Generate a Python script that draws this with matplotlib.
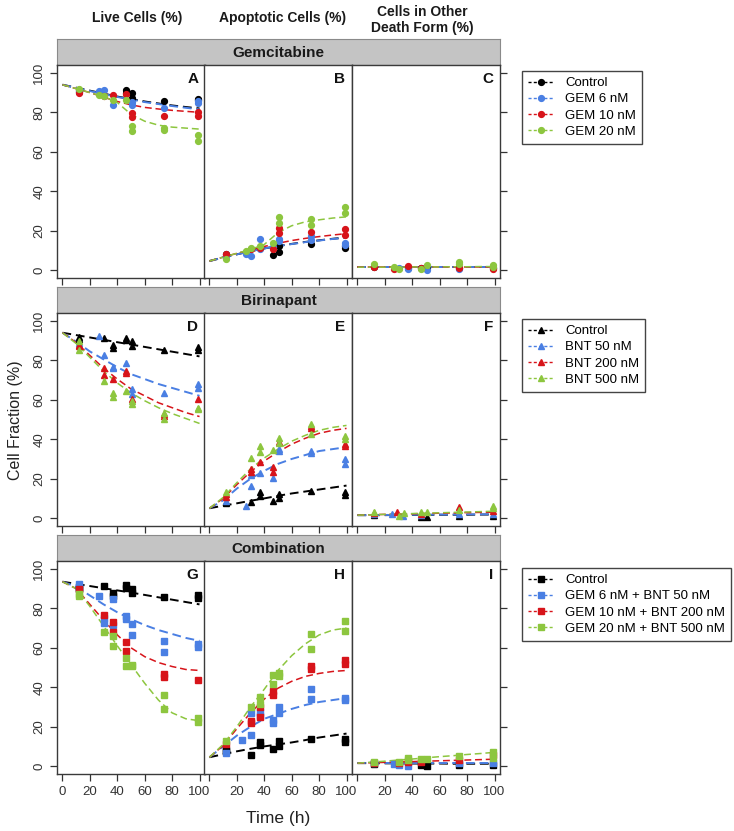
import matplotlib
matplotlib.use('Agg')
import matplotlib.pyplot as plt
from matplotlib.lines import Line2D

plt.rcParams['font.family'] = ['Liberation Sans', 'DejaVu Sans']

# ---------------- data ----------------
col_titles = ['Live Cells (%)', 'Apoptotic Cells (%)', 'Cells in Other\nDeath Form (%)']
row_titles = ['Gemcitabine', 'Birinapant', 'Combination']
panel_letters = [['A', 'B', 'C'], ['D', 'E', 'F'], ['G', 'H', 'I']]
legend_gem = ['Control', 'GEM 6 nM', 'GEM 10 nM', 'GEM 20 nM']
legend_bnt = ['Control', 'BNT 50 nM', 'BNT 200 nM', 'BNT 500 nM']
legend_comb = ['Control', 'GEM 6 nM + BNT 50 nM', 'GEM 10 nM + BNT 200 nM', 'GEM 20 nM + BNT 500 nM']
series_keys = ['ctrl', 'low', 'mid', 'high']
series_colors = ['#000000', '#4a7fe3', '#d7141a', '#8dc63f']
row_markers = ['o', '^', 's']

x_ticks = [0, 20, 40, 60, 80, 100]
y_ticks = [0, 20, 40, 60, 80, 100]
fit_t = [0, 10, 20, 30, 40, 50, 60, 70, 80, 90, 100]

# Panel A (live, gemcitabine)
A_pts = {
    'ctrl': [(12, 91.5), (12, 90.5), (46, 91.5), (46, 90.0), (51, 89.8), (51, 87.3), (74, 85.6), (99, 86.8), (99, 86.0)],
    'low':  [(12, 90.6), (27, 90.6), (30, 91.5), (37, 83.9), (51, 83.9), (51, 85.0), (74, 82.2), (99, 84.7), (99, 85.5)],
    'mid':  [(12, 89.8), (30, 88.5), (37, 89.0), (46, 89.5), (51, 79.7), (51, 77.6), (74, 78.3), (99, 80.0), (99, 78.0)],
    'high': [(12, 91.8), (27, 89.0), (30, 88.5), (37, 86.4), (46, 86.4), (51, 73.2), (51, 70.4), (74, 72.0), (74, 71.0), (99, 68.7), (99, 65.3)],
}
A_fit = {
    'ctrl': [94, 92.5, 91, 89.5, 88, 86.8, 85.5, 84.5, 83.5, 82.7, 82],
    'low':  [94, 92.4, 90.8, 89.3, 87.8, 86.5, 85.2, 84.2, 83.2, 82.3, 81.5],
    'mid':  [94, 92, 90, 87.7, 85.5, 83.8, 82.5, 81.7, 81, 80.5, 80],
    'high': [94, 92, 90, 88, 85, 79, 75.5, 73.5, 72.5, 72, 71.5],
}
# Panel B (apoptotic, gemcitabine)
B_pts = {
    'ctrl': [(12, 8.0), (37, 11.3), (46, 7.6), (51, 9.1), (51, 12.1), (74, 13.0), (99, 11.3), (99, 12.2)],
    'low':  [(12, 7.1), (27, 8.0), (30, 7.4), (37, 15.9), (37, 10.5), (46, 11.5), (51, 15.9), (51, 14.7), (74, 17.2), (74, 15.5), (99, 13.8), (99, 12.5)],
    'mid':  [(12, 8.4), (30, 10.5), (37, 11.0), (46, 10.5), (51, 21.4), (51, 18.9), (74, 19.2), (99, 20.6), (99, 17.6)],
    'high': [(12, 5.7), (27, 9.5), (30, 11.3), (37, 12.2), (46, 13.8), (51, 27.0), (51, 24.0), (74, 26.0), (74, 23.1), (99, 31.9), (99, 29.0)],
}
B_fit = {
    'ctrl': [4.6, 6.4, 8.0, 9.6, 11.0, 12.2, 13.3, 14.3, 15.1, 15.9, 16.6],
    'low':  [4.6, 6.4, 8.0, 9.6, 11.0, 12.2, 13.2, 14.2, 15.0, 15.8, 16.4],
    'mid':  [4.6, 6.6, 8.5, 10.3, 12.0, 13.6, 15.0, 16.1, 17.0, 17.8, 18.5],
    'high': [4.6, 6.6, 8.5, 10.5, 13.0, 19.0, 22.5, 24.5, 25.5, 26.4, 27.0],
}
# Panel C (other death, gemcitabine)
C_pts = {
    'ctrl': [(12, 1.5), (37, 1.3), (46, 1.0), (51, 1.0), (74, 1.0), (99, 1.0)],
    'low':  [(12, 2.2), (30, 1.0), (37, 0.5), (51, 0.2), (74, 0.5), (99, 1.0)],
    'mid':  [(12, 1.5), (27, 0.8), (37, 1.9), (46, 1.0), (74, 1.0), (99, 0.5)],
    'high': [(12, 2.9), (27, 1.8), (30, 0.6), (46, 0.6), (51, 2.6), (74, 4.3), (74, 3.0), (99, 2.6), (99, 1.6)],
}
C_fit = {
    'ctrl': [1.5] * 11,
    'low':  [1.5] * 11,
    'mid':  [1.5, 1.5, 1.5, 1.5, 1.5, 1.5, 1.5, 1.5, 1.5, 1.5, 1.5],
    'high': [1.5, 1.5, 1.5, 1.5, 1.6, 1.6, 1.6, 1.7, 1.7, 1.8, 1.8],
}
# Panel D (live, birinapant)
D_pts = {
    'ctrl': [(12, 91.8), (12, 90.8), (30, 91.3), (37, 87.9), (37, 86.2), (46, 91.3), (46, 90.5), (51, 90.0), (51, 87.4), (74, 85.4), (99, 87.0), (99, 85.4)],
    'low':  [(12, 88.8), (27, 92.1), (30, 82.9), (37, 76.5), (37, 76.0), (46, 78.7), (51, 65.3), (51, 62.8), (74, 63.6), (99, 67.8), (99, 66.1)],
    'mid':  [(12, 87.1), (12, 88.0), (30, 76.2), (30, 72.8), (37, 70.3), (46, 74.5), (46, 73.7), (51, 60.3), (74, 52.7), (74, 51.9), (99, 60.3)],
    'high': [(12, 89.6), (12, 85.1), (30, 69.5), (37, 63.6), (37, 61.6), (46, 64.4), (51, 59.4), (51, 57.7), (74, 53.5), (74, 50.2), (99, 56.0), (99, 55.2)],
}
D_fit = {
    'ctrl': [94, 92.8, 91.6, 90.4, 89.2, 88, 86.8, 85.6, 84.4, 83.2, 82],
    'low':  [94, 89.5, 84.5, 80.5, 76.5, 73, 70.5, 68, 66, 64, 62],
    'mid':  [94, 89, 82.5, 76, 70.5, 65.5, 62, 58.5, 56, 53.5, 51.5],
    'high': [94, 88.5, 81.5, 74.5, 68.5, 63.5, 59.5, 56, 53, 50.5, 48],
}
# Panel E (apoptotic, birinapant)
E_pts = {
    'ctrl': [(12, 7.5), (12, 8.2), (30, 8.0), (37, 13.0), (37, 11.3), (46, 8.8), (51, 12.2), (51, 10.0), (74, 13.8), (99, 13.0), (99, 11.7)],
    'low':  [(12, 8.8), (27, 6.3), (30, 16.3), (30, 22.0), (37, 22.7), (46, 20.5), (51, 35.0), (51, 34.0), (74, 34.0), (74, 33.0), (99, 30.0), (99, 27.6)],
    'mid':  [(12, 10.5), (12, 12.0), (30, 24.7), (30, 23.4), (37, 28.4), (46, 26.0), (46, 23.4), (51, 38.5), (74, 46.8), (74, 45.5), (99, 37.6), (99, 36.7)],
    'high': [(12, 13.0), (30, 30.4), (37, 36.8), (37, 33.4), (46, 34.3), (51, 40.5), (51, 38.1), (74, 47.7), (74, 42.6), (99, 41.8), (99, 40.1)],
}
E_fit = {
    'ctrl': [5, 6.3, 7.5, 8.8, 10, 11.3, 12.5, 13.5, 14.5, 15.5, 16.5],
    'low':  [5, 9, 15, 20, 24, 27.5, 30, 32, 34, 35, 36],
    'mid':  [5, 10, 17, 23.5, 29, 33.5, 37.5, 40.5, 43, 44.5, 45.5],
    'high': [5, 10.5, 18, 25, 30.5, 35, 39, 42, 44.5, 46, 47],
}
# Panel F (other death, birinapant)
F_pts = {
    'ctrl': [(12, 1.5), (46, 0.5), (51, 0.8), (74, 1.3), (99, 1.3)],
    'low':  [(12, 2.0), (25, 2.2), (33, 1.0), (46, 1.5), (74, 2.0), (99, 2.0)],
    'mid':  [(12, 2.5), (29, 3.0), (46, 2.0), (74, 5.5), (99, 3.8)],
    'high': [(12, 3.3), (30, 1.3), (34, 2.7), (46, 3.0), (51, 3.0), (74, 4.0), (99, 6.3), (99, 5.0)],
}
F_fit = {
    'ctrl': [1.5, 1.5, 1.5, 1.6, 1.6, 1.6, 1.7, 1.7, 1.7, 1.8, 1.8],
    'low':  [1.5, 1.5, 1.6, 1.6, 1.7, 1.7, 1.8, 1.8, 1.9, 1.9, 2.0],
    'mid':  [1.5, 1.7, 1.9, 2.0, 2.2, 2.3, 2.5, 2.6, 2.8, 2.9, 3.0],
    'high': [1.5, 1.7, 1.9, 2.1, 2.3, 2.5, 2.7, 2.9, 3.1, 3.3, 3.5],
}
# Panel G (live, combination)
G_pts = {
    'ctrl': [(12, 90.4), (12, 89.6), (30, 91.3), (37, 87.9), (37, 86.2), (46, 91.6), (46, 90.4), (51, 89.9), (51, 87.6), (74, 85.7), (99, 86.6), (99, 85.1)],
    'low':  [(12, 92.1), (12, 91.0), (27, 86.2), (30, 75.3), (30, 72.5), (37, 84.6), (37, 71.5), (46, 76.2), (46, 74.5), (51, 72.3), (51, 66.5), (74, 63.3), (74, 58.0), (99, 62.0), (99, 60.3)],
    'mid':  [(12, 90.0), (30, 76.7), (37, 73.3), (37, 68.1), (46, 62.8), (46, 58.6), (74, 46.8), (74, 45.2), (99, 43.5)],
    'high': [(12, 87.1), (12, 86.3), (30, 68.1), (37, 65.8), (37, 60.8), (46, 54.7), (46, 51.0), (51, 51.4), (51, 50.6), (74, 36.3), (74, 28.9), (99, 24.5), (99, 22.5)],
}
G_fit = {
    'ctrl': [93.5, 92.4, 91.3, 90.2, 89.1, 88, 86.8, 85.6, 84.4, 83.2, 82],
    'low':  [93.5, 91, 86.5, 82, 78, 74.5, 71.5, 69, 67, 65, 63.5],
    'mid':  [93.5, 90, 82, 74, 66.5, 60, 55.5, 52.5, 50.5, 49, 48.5],
    'high': [93.5, 90, 81, 71, 61, 51.5, 42, 33.5, 27, 24, 23],
}
# Panel H (apoptotic, combination)
H_pts = {
    'ctrl': [(12, 7.5), (12, 8.0), (30, 5.5), (37, 12.0), (37, 10.5), (46, 8.5), (51, 12.5), (51, 10.3), (74, 13.6), (99, 14.0), (99, 12.0)],
    'low':  [(12, 6.8), (24, 13.3), (30, 26.7), (30, 15.8), (37, 27.5), (37, 25.5), (46, 23.4), (46, 21.7), (51, 30.0), (51, 26.7), (74, 39.0), (74, 33.9), (99, 34.3), (99, 33.5)],
    'mid':  [(12, 11.0), (30, 21.7), (30, 23.0), (37, 30.0), (37, 25.0), (46, 38.0), (46, 36.0), (74, 50.7), (74, 49.0), (99, 54.0), (99, 51.9)],
    'high': [(12, 12.8), (30, 30.0), (37, 35.0), (37, 31.7), (46, 46.3), (46, 41.8), (51, 47.3), (51, 45.7), (74, 67.0), (74, 59.4), (99, 73.7), (99, 68.6)],
}
H_fit = {
    'ctrl': [4.5, 6.0, 7.5, 8.8, 10, 11, 12, 13.2, 14.5, 15.5, 16.5],
    'low':  [4.5, 10, 15.5, 20, 24, 26.5, 29, 31, 32.5, 33.5, 34.5],
    'mid':  [4.5, 10.5, 19, 27, 34, 39.5, 43, 45.5, 47, 48, 48.5],
    'high': [4.5, 11, 20, 30, 39, 48.5, 56, 62, 66.5, 69, 70],
}
# Panel I (other death, combination)
I_pts = {
    'ctrl': [(12, 1.2), (46, 0.7), (51, 0.0), (74, 0.7), (99, 0.7)],
    'low':  [(12, 1.7), (27, 1.2), (30, 0.7), (37, 0.0), (74, 1.5), (99, 1.7)],
    'mid':  [(12, 1.5), (30, 1.5), (37, 2.0), (46, 2.0), (74, 3.0), (99, 5.5)],
    'high': [(12, 2.0), (30, 2.0), (37, 4.1), (37, 2.9), (46, 3.4), (51, 3.4), (74, 5.1), (99, 7.2), (99, 4.1)],
}
I_fit = {
    'ctrl': [1.5, 1.5, 1.4, 1.4, 1.3, 1.3, 1.3, 1.2, 1.2, 1.2, 1.2],
    'low':  [1.5] * 11,
    'mid':  [1.5, 1.7, 1.9, 2.1, 2.3, 2.5, 2.7, 2.9, 3.1, 3.3, 3.5],
    'high': [1.5, 2.0, 2.5, 3.1, 3.6, 4.2, 4.8, 5.3, 5.9, 6.4, 7.0],
}

panel_pts = [[A_pts, B_pts, C_pts], [D_pts, E_pts, F_pts], [G_pts, H_pts, I_pts]]
panel_fit = [[A_fit, B_fit, C_fit], [D_fit, E_fit, F_fit], [G_fit, H_fit, I_fit]]
row_legends = [legend_gem, legend_bnt, legend_comb]

# ---------------- layout ----------------
W, H = 734, 831
fig = plt.figure(figsize=(W / 100, H / 100), dpi=100)

col_x = [57, 204, 352]
col_w = 148
row_top = [65, 313, 561]
row_h = 213
strip_h = 26
spine_col = '#3a3a3a'
tick_col = '#333333'


def fx(px):
    return px / W


def fy(py):
    return 1 - py / H


legend_tops = [71, 319, 568]

for r in range(3):
    # strip
    sax = fig.add_axes([fx(col_x[0]), fy(row_top[r]), fx(col_x[2] + col_w) - fx(col_x[0]), strip_h / H])
    sax.set_facecolor('#c4c4c4')
    sax.set_xticks([])
    sax.set_yticks([])
    for sp in sax.spines.values():
        sp.set_color('#8a8a8a')
        sp.set_linewidth(0.8)
    sax.text(0.5, 0.48, row_titles[r], ha='center', va='center', fontsize=11,
             fontweight='bold', color='#1a1a1a', transform=sax.transAxes)

    for c in range(3):
        ax = fig.add_axes([fx(col_x[c]), fy(row_top[r] + row_h), col_w / W, row_h / H])
        ax.set_xlim(-4, 104)
        ax.set_ylim(-4, 104)
        pts = panel_pts[r][c]
        fit = panel_fit[r][c]
        for k, key in enumerate(series_keys):
            col = series_colors[k]
            lw = 1.4 if key in ('ctrl', 'low') else 1.1
            ax.plot(fit_t, fit[key], ls=(0, (4.5, 2.5)), color=col, lw=lw, zorder=2)
            ts = [p[0] for p in pts[key]]
            vs = [p[1] for p in pts[key]]
            ax.plot(ts, vs, ls='none', marker=row_markers[r], color=col, ms=4.2,
                    mec=col, zorder=3)
        for sp in ax.spines.values():
            sp.set_color(spine_col)
            sp.set_linewidth(1.0)
        ax.text(0.955, 0.965, panel_letters[r][c], transform=ax.transAxes, ha='right', va='top',
                fontsize=11, fontweight='bold', color='#111111')

        ax.set_xticks(x_ticks)
        ax.set_yticks(y_ticks)
        ax.tick_params(axis='both', direction='out', length=5, width=0.9, color=tick_col,
                       labelsize=9.5, labelcolor='#333333', pad=3.5)
        # x axis: ticks on every panel, labels only on bottom row
        if r == 2:
            if c == 0:
                ax.set_xticklabels([str(v) for v in x_ticks])
            else:
                ax.set_xticklabels([''] + [str(v) for v in x_ticks[1:]])
        else:
            ax.tick_params(axis='x', labelbottom=False)
        # y axis
        if c == 0:
            ax.set_yticklabels([str(v) for v in y_ticks])
            ax.tick_params(axis='y', labelrotation=90)
            for lab in ax.get_yticklabels():
                lab.set_va('center')
        elif c == 1:
            ax.tick_params(axis='y', left=False, labelleft=False)
        else:
            ax.tick_params(axis='y', left=False, labelleft=False, right=True, labelright=False)

    # legend
    handles = [Line2D([], [], ls=(0, (2.2, 1.6)), lw=1.0, color=series_colors[k],
                      marker=row_markers[r], ms=4.2) for k in range(4)]
    fig.legend(handles, row_legends[r], loc='upper left',
               bbox_to_anchor=(fx(522), fy(legend_tops[r])), borderaxespad=0,
               frameon=True, fancybox=False, edgecolor='#444444', framealpha=1,
               fontsize=9.5, handlelength=2.0, handletextpad=0.8, labelspacing=0.3,
               borderpad=0.45, numpoints=1)

# column titles
fig.text(fx(137), fy(18), col_titles[0], ha='center', va='center', fontsize=10, fontweight='bold', color='#1a1a1a')
fig.text(fx(283), fy(18), col_titles[1], ha='center', va='center', fontsize=10, fontweight='bold', color='#1a1a1a')
fig.text(fx(422), fy(20), col_titles[2], ha='center', va='center', fontsize=10, fontweight='bold', color='#1a1a1a',
         linespacing=1.15)

# axis labels
fig.text(fx(16), fy(420), 'Cell Fraction (%)', rotation=90, ha='center', va='center', fontsize=11.5, color='#222222')
fig.text(fx(278), fy(818), 'Time (h)', ha='center', va='center', fontsize=12.5, color='#222222')

fig.savefig('out.png', dpi=100)
